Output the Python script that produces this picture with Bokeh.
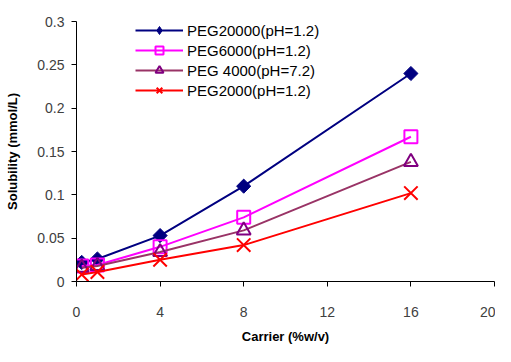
from bokeh.plotting import figure
from bokeh.embed import file_html
from bokeh.resources import INLINE
from bokeh.models import Range1d, FixedTicker, Legend
import math

x_vals = [0.25, 1, 4, 8, 16]
peg20000 = [0.022, 0.026, 0.053, 0.110, 0.240]
peg6000 = [0.018, 0.019, 0.040, 0.074, 0.167]
peg4000 = [0.016, 0.018, 0.034, 0.059, 0.138]
peg2000 = [0.008, 0.011, 0.025, 0.042, 0.102]
labels = ["PEG20000(pH=1.2)", "PEG6000(pH=1.2)", "PEG 4000(pH=7.2)", "PEG2000(pH=1.2)"]
x_ticks = [0, 4, 8, 12, 16, 20]
y_ticks = [0, 0.05, 0.1, 0.15, 0.2, 0.25, 0.3]
y_tick_labels = ["0", "0.05", "0.1", "0.15", "0.2", "0.25", "0.3"]

FONT = "'Liberation Sans Narrow', 'Arial Narrow', 'Liberation Sans', sans-serif"
SANS = "'Liberation Sans', Arial, sans-serif"

p = figure(width=495, height=346, output_backend="svg", toolbar_location=None,
           x_range=Range1d(0, 20), y_range=Range1d(0, 0.3),
           min_border_left=76, min_border_right=1, min_border_top=21, min_border_bottom=64)
p.outline_line_color = None
p.xgrid.grid_line_color = None
p.ygrid.grid_line_color = None
p.background_fill_color = "white"
p.border_fill_color = "white"

# (values, line colour, marker colour, marker, fill, size, angle, legend marker)
series = [
    (peg20000, "#000080", "#000080", "square", "#000080", 10, math.pi / 4, "diamond"),
    (peg6000, "#FF00FF", "#FF00FF", "square", None, 13, 0, None),
    (peg4000, "#993366", "#800080", "triangle", None, 14, 0, None),
    (peg2000, "#FF0000", "#FF0000", "x", None, 19, 0, None),
]
items = []
for (ys, lc, mc, mk, fc, sz, ang, lmk), lab in zip(series, labels):
    r1 = p.line(x_vals, ys, line_color=lc, line_width=2)
    r3 = None
    if lmk:
        # legend-only glyph, hidden underneath the plotted marker
        r3 = p.scatter(x_vals, ys, marker=lmk, size=sz, line_color=mc,
                       fill_color=fc, line_width=1)
    r2 = p.scatter(x_vals, ys, marker=mk, size=sz, angle=ang, line_color=mc,
                   fill_color=fc if fc else "white", fill_alpha=1 if fc else 0,
                   line_width=2 if not fc else 1)
    items.append((lab, [r1, r3 if r3 is not None else r2]))

legend = Legend(items=items, location=(59, 181))
legend.border_line_color = None
legend.background_fill_alpha = 0
legend.padding = 0
legend.spacing = 0
legend.label_height = 20
legend.glyph_height = 20
legend.glyph_width = 48
legend.label_standoff = 4
legend.label_text_font = SANS
legend.label_text_font_size = "15px"
legend.label_text_color = "black"
legend.margin = 0
p.add_layout(legend, "center")

p.xaxis.ticker = FixedTicker(ticks=x_ticks)
p.yaxis.ticker = FixedTicker(ticks=y_ticks)
p.yaxis.major_label_overrides = {t: l for t, l in zip(y_ticks, y_tick_labels)}
for ax in (p.xaxis[0], p.yaxis[0]):
    ax.minor_tick_line_color = None
    ax.major_tick_out = 5
    ax.major_tick_in = 0
    ax.axis_line_color = "black"
    ax.major_tick_line_color = "black"
    ax.major_label_text_font = FONT
    ax.major_label_text_font_size = "14px"
    ax.major_label_text_color = "#404040"
    ax.axis_label_text_font = SANS
    ax.axis_label_text_font_style = "bold"
    ax.axis_label_text_font_size = "13px"
    ax.axis_label_text_color = "black"

p.xaxis.axis_label = "Carrier (%w/v)"
p.yaxis.axis_label = "Solubility (mmol/L)"
p.xaxis.major_label_standoff = 20
p.xaxis.axis_label_standoff = 9
p.yaxis.major_label_standoff = 7
p.yaxis.axis_label_standoff = 14

open("out.html", "w").write(file_html(p, INLINE))
